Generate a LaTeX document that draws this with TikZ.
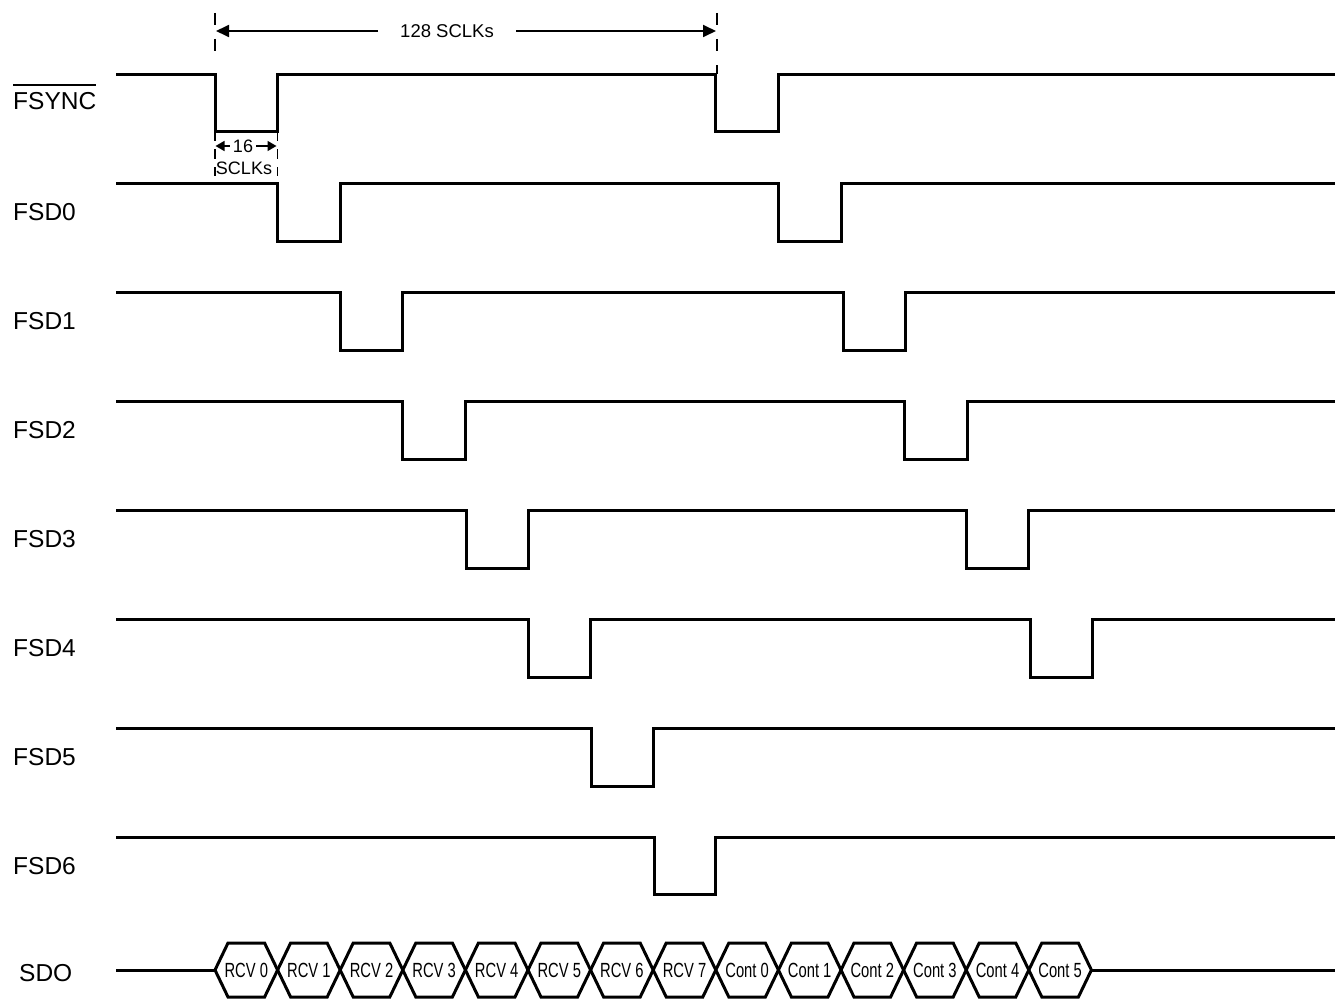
\documentclass[tikz,border=0pt]{standalone}
\usepackage{fontspec}
\setmainfont{Liberation Sans}
\newfontfamily\narrowsans[FakeStretch=0.72]{Liberation Sans}
\usetikzlibrary{arrows.meta}
\begin{document}
\begin{tikzpicture}[x=1pt,y=-1pt,
  sig/.style={line width=3pt, line join=miter},
  lbl/.style={font=\fontsize{24.5}{28}\selectfont, anchor=west, inner sep=0pt},
  hexlbl/.style={font=\narrowsans\fontsize{20.5}{24}\selectfont, inner sep=0pt},
  dimtxt/.style={font=\fontsize{18.5}{21}\selectfont, inner ysep=0pt},
  smalltxt/.style={font=\fontsize{18}{20}\selectfont, inner sep=0pt},
  dimline/.style={line width=1.8pt, -{Triangle[length=13pt,width=12pt]}},
  smalldim/.style={line width=1.6pt, -{Triangle[length=9pt,width=10pt]}},
  guide/.style={line width=1.8pt, dash pattern=on 12pt off 14pt}]
\useasboundingbox (0,0) rectangle (1337,998);

% ---- labels ----
\node[lbl] (lfsync) at (13,101) {FSYNC};
\draw[line width=1.4pt] ([yshift=7pt]lfsync.north west) -- ([yshift=7pt]lfsync.north east);
\node[lbl] (lfsd0) at (13,212) {FSD0};
\node[lbl] (lfsd1) at (13,321) {FSD1};
\node[lbl] (lfsd2) at (13,430) {FSD2};
\node[lbl] (lfsd3) at (13,539) {FSD3};
\node[lbl] (lfsd4) at (13,648) {FSD4};
\node[lbl] (lfsd5) at (13,757) {FSD5};
\node[lbl] (lfsd6) at (13,866) {FSD6};
\node[lbl] (lsdo) at (19,973) {SDO};

% ---- waveforms ----
\draw[sig] (116,74) -| (215,131) -| (277.6,74) -| (715.8,131) -| (778.4,74) -- (1335,74);
\draw[sig] (116,183) -| (277.6,241) -| (340.2,183) -| (778.4,241) -| (841,183) -- (1335,183);
\draw[sig] (116,292) -| (340.2,350) -| (402.8,292) -| (843,350) -| (905.6,292) -- (1335,292);
\draw[sig] (116,401) -| (402.8,459) -| (465.4,401) -| (904.6,459) -| (967,401) -- (1335,401);
\draw[sig] (116,510) -| (466.4,568) -| (528,510) -| (966.2,568) -| (1028.8,510) -- (1335,510);
\draw[sig] (116,619) -| (528,677) -| (590.6,619) -| (1030.8,677) -| (1092.4,619) -- (1335,619);
\draw[sig] (116,728) -| (591.6,786) -| (653.2,728) -- (1335,728);
\draw[sig] (116,837) -| (654.2,894) -| (715.8,837) -- (1335,837);

% ---- SDO bus ----
\coordinate (sdoL) at (116,970);
\coordinate (sdoR) at (1335,970);
\draw[sig] (sdoL) -- (215,970);
\draw[sig] (1091.4,970) -- (sdoR);
\foreach \k/\t in {0/RCV 0,1/RCV 1,2/RCV 2,3/RCV 3,4/RCV 4,5/RCV 5,6/RCV 6,7/RCV 7,
                   8/Cont 0,9/Cont 1,10/Cont 2,11/Cont 3,12/Cont 4,13/Cont 5}{
  \pgfmathsetmacro{\xa}{215+62.6*\k}
  \pgfmathsetmacro{\xb}{215+62.6*(\k+1)}
  \draw[sig, line join=miter] (\xa,970) -- (\xa+13,943) -- (\xb-13,943) -- (\xb,970)
        -- (\xb-13,997) -- (\xa+13,997) -- cycle;
  \node[hexlbl] (h\k) at ({(\xa+\xb)/2},970) {\t};
}

% ---- 128 SCLKs dimension ----
\coordinate (a1) at (216,31);
\coordinate (a2) at (716,31);
\node[dimtxt, inner xsep=22pt] (t128) at (447,31) {128 SCLKs};
\draw[dimline] (t128.west) -- (a1);
\draw[dimline] (t128.east) -- (a2);
\draw[guide] (215,13) -- (215,64);
\draw[guide] (717,13) -- (717,74);

% ---- 16 SCLKs dimension ----
\coordinate (b1) at (215.5,146);
\coordinate (b2) at (276.5,146);
\node[smalltxt, inner xsep=3pt] (t16) at (243,146) {16};
\node[smalltxt] (tsclk) at (244,168) {SCLKs};
\draw[smalldim] (t16.west) -- (b1);
\draw[smalldim] (t16.east) -- (b2);
\draw[line width=1.5pt, dash pattern=on 10pt off 8pt] (215,131) -- (215,176);
\draw[line width=1.5pt, dash pattern=on 10pt off 8pt] (277.6,131) -- (277.6,176);
\end{tikzpicture}
\end{document}
